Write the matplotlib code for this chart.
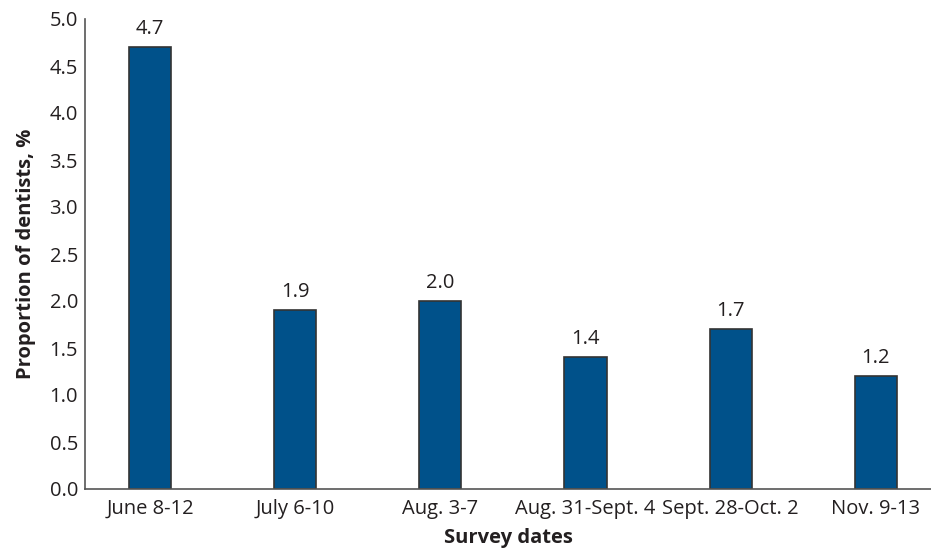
import matplotlib.pyplot as plt
import numpy as np

plt.rcParams['font.family'] = ['Open Sans', 'DejaVu Sans']

# === Datos ===
survey_dates = ["June 8-12", "July 6-10", "Aug. 3-7", "Aug. 31-Sept. 4",
                "Sept. 28-Oct. 2", "Nov. 9-13"]
proportion = [4.7, 1.9, 2.0, 1.4, 1.7, 1.2]
y_ticks = [0.0, 0.5, 1.0, 1.5, 2.0, 2.5, 3.0, 3.5, 4.0, 4.5, 5.0]

BAR_COLOR = "#00518a"
TEXT_COLOR = "#231f20"
FS = 14.5

fig = plt.figure(figsize=(9.31, 5.5), dpi=100)
ax = fig.add_axes([85 / 931, 61 / 550, (931 - 85) / 931, 470 / 550])

x = np.arange(len(survey_dates))
bars = ax.bar(x, proportion, width=0.29, color=BAR_COLOR,
              edgecolor="#333333", linewidth=1.2, zorder=2)

for b, v in zip(bars, proportion):
    ax.text(b.get_x() + b.get_width() / 2, v + 0.09, f"{v:.1f}",
            ha="center", va="bottom", fontsize=FS, color=TEXT_COLOR)

ax.set_xlim(-0.448, 5.38)
ax.set_ylim(0, 5.0)
ax.set_yticks(y_ticks)
ax.set_yticklabels([f"{t:.1f}" for t in y_ticks])
ax.set_xticks(x)
ax.set_xticklabels(survey_dates)
ax.tick_params(length=0, labelsize=FS, labelcolor=TEXT_COLOR)
ax.tick_params(axis="x", pad=7)
ax.tick_params(axis="y", pad=5)

for s in ["top", "right"]:
    ax.spines[s].set_visible(False)
for s in ["left", "bottom"]:
    ax.spines[s].set_color("#555555")
    ax.spines[s].set_linewidth(1.2)

ax.set_xlabel("Survey dates", fontsize=FS, fontweight="bold",
              color=TEXT_COLOR, labelpad=7)
ax.set_ylabel("Proportion of dentists, %", fontsize=14.5, fontweight="bold",
              color=TEXT_COLOR, labelpad=10)

fig.savefig("out.png", dpi=100)
